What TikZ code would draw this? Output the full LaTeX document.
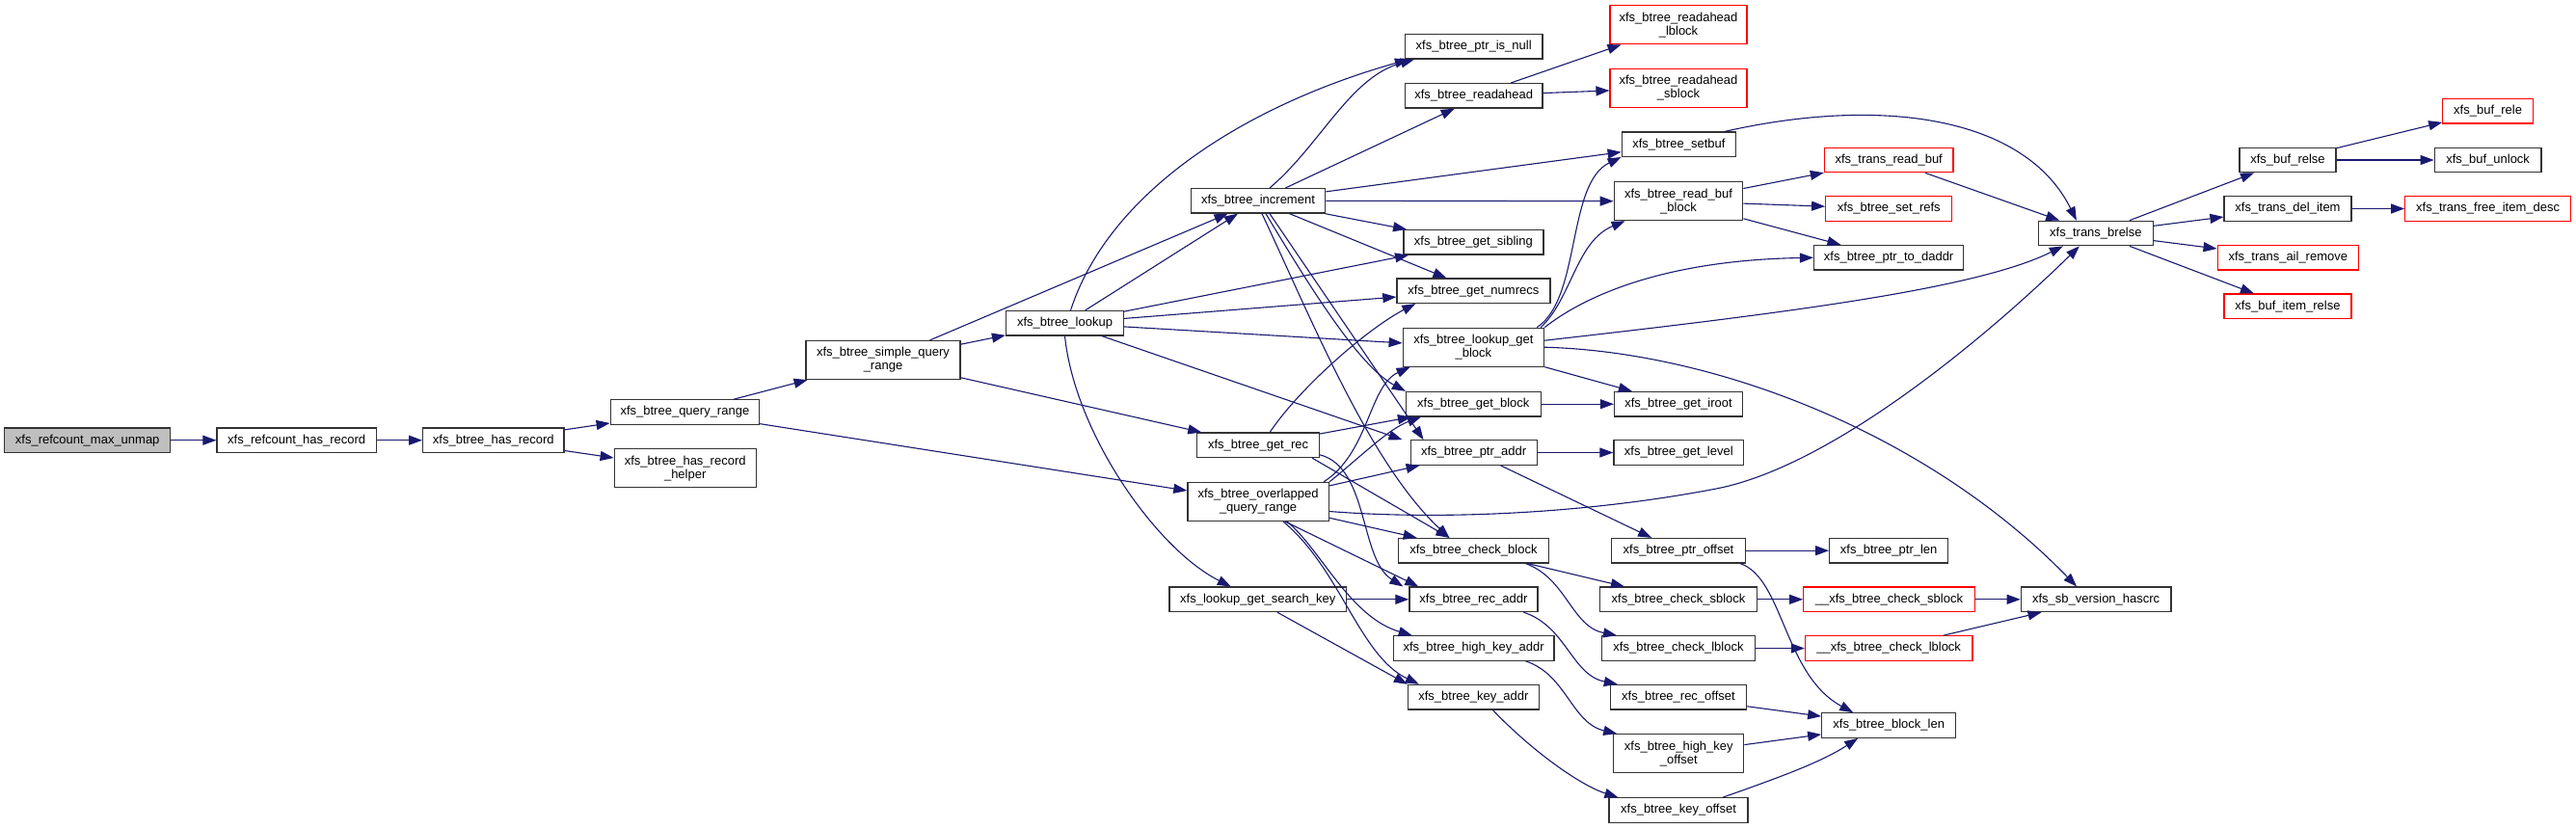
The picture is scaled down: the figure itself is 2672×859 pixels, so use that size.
\documentclass[tikz,border=0pt]{standalone}
\usepackage{fontspec}
\setmainfont{Liberation Sans}
\usepackage{tikz}
\usetikzlibrary{arrows.meta}

\definecolor{callblue}{RGB}{25,25,112}
\definecolor{rootgray}{RGB}{191,191,191}

\begin{document}
\begin{tikzpicture}[
            x=0.5pt, y=-0.5pt,
            fnbox/.style={
                draw=black!80,
                line width=0.6pt,
                fill=white,
                align=center,
                inner xsep=3pt,
                inner ysep=1pt,
                minimum height=12.75pt,
                font=\fontsize{6.5pt}{7pt}\selectfont
            },
            fnred/.style={fnbox, draw=red},
            fnroot/.style={fnbox, fill=rootgray},
            twoline/.style={minimum height=20pt},
            call/.style={
                draw=callblue,
                line width=0.55pt,
                -{Triangle[length=7pt,width=5pt]}
            }
        ]

        \path[use as bounding box, fill=white] (0,0) rectangle (2672,859);

        \node[fnroot, minimum width=86pt] (maxunmap) at (90.7,456.7) {xfs\_refcount\_max\_unmap};
        \node[fnbox, minimum width=82.7pt] (hasrec) at (307.7,456.7) {xfs\_refcount\_has\_record};
        \node[fnbox, minimum width=73.2pt] (btreehasrec) at (511.8,456.7) {xfs\_btree\_has\_record};
        \node[fnbox, minimum width=77.2pt] (queryrange) at (710.4,427.5) {xfs\_btree\_query\_range};
        \node[fnbox, twoline, minimum width=73.5pt] (hasrechelper) at (710.7,485.8) {xfs\_btree\_has\_record\\\_helper};
        \node[fnbox, twoline, minimum width=80pt] (simplequery) at (916,373.5) {xfs\_btree\_simple\_query\\\_range};

        \node[fnbox, minimum width=61pt] (lookup) at (1104.5,335.3) {xfs\_btree\_lookup};
        \node[fnbox, minimum width=69.8pt] (increment) at (1305,208.3) {xfs\_btree\_increment};
        \node[fnbox, minimum width=63.4pt] (getrec) at (1305.1,461.8) {xfs\_btree\_get\_rec};
        \node[fnbox, twoline, minimum width=73.2pt] (overlapped) at (1305.1,520.5) {xfs\_btree\_overlapped\\\_query\_range};
        \node[fnbox, minimum width=91.8pt] (searchkey) at (1304.8,621.8) {xfs\_lookup\_get\_search\_key};

        \node[fnbox, minimum width=71.2pt] (ptrisnull) at (1528.7,48.3) {xfs\_btree\_ptr\_is\_null};
        \node[fnbox, minimum width=71.2pt] (readahead) at (1528.7,99.3) {xfs\_btree\_readahead};
        \node[fnbox, minimum width=72.5pt] (getsibling) at (1528.4,251.3) {xfs\_btree\_get\_sibling};
        \node[fnbox, minimum width=79.5pt] (getnumrecs) at (1528.4,301.7) {xfs\_btree\_get\_numrecs};
        \node[fnbox, twoline, minimum width=73.2pt] (lookupgetblock) at (1528.4,360.2) {xfs\_btree\_lookup\_get\\\_block};
        \node[fnbox, minimum width=69.8pt] (getblock) at (1528.3,419.2) {xfs\_btree\_get\_block};
        \node[fnbox, minimum width=65.5pt] (ptraddr) at (1528.6,469.5) {xfs\_btree\_ptr\_addr};
        \node[fnbox, minimum width=77.8pt] (checkblock) at (1528.4,571.2) {xfs\_btree\_check\_block};
        \node[fnbox, minimum width=66.5pt] (recaddr) at (1528.4,621.8) {xfs\_btree\_rec\_addr};
        \node[fnbox, minimum width=83.3pt] (highkeyaddr) at (1528.6,672.5) {xfs\_btree\_high\_key\_addr};
        \node[fnbox, minimum width=68pt] (keyaddr) at (1528.4,723.2) {xfs\_btree\_key\_addr};

        \node[fnred, twoline, minimum width=71pt] (ralblock) at (1741,25.8) {xfs\_btree\_readahead\\\_lblock};
        \node[fnred, twoline, minimum width=71pt] (rasblock) at (1741,91.2) {xfs\_btree\_readahead\\\_sblock};
        \node[fnbox, minimum width=59.2pt] (setbuf) at (1741.4,149.7) {xfs\_btree\_setbuf};
        \node[fnbox, twoline, minimum width=66.8pt] (readbufblock) at (1741,208.7) {xfs\_btree\_read\_buf\\\_block};
        \node[fnbox, minimum width=66.5pt] (getiroot) at (1741,419.2) {xfs\_btree\_get\_iroot};
        \node[fnbox, minimum width=67.4pt] (getlevel) at (1741.3,469.5) {xfs\_btree\_get\_level};
        \node[fnbox, minimum width=69.5pt] (ptroffset) at (1741,571.2) {xfs\_btree\_ptr\_offset};
        \node[fnbox, minimum width=81.6pt] (checksblock) at (1741,621.8) {xfs\_btree\_check\_sblock};
        \node[fnbox, minimum width=79.4pt] (checklblock) at (1741,672.5) {xfs\_btree\_check\_lblock};
        \node[fnbox, minimum width=70.6pt] (recoffset) at (1741,723.2) {xfs\_btree\_rec\_offset};
        \node[fnbox, twoline, minimum width=67.5pt] (highkeyoffset) at (1741.3,781.7) {xfs\_btree\_high\_key\\\_offset};
        \node[fnbox, minimum width=72pt] (keyoffset) at (1741,840.5) {xfs\_btree\_key\_offset};

        \node[fnred, minimum width=66.8pt] (transreadbuf) at (1959.2,166) {xfs\_trans\_read\_buf};
        \node[fnred, minimum width=65.5pt] (setrefs) at (1959.2,216.5) {xfs\_btree\_set\_refs};
        \node[fnbox, minimum width=77.6pt] (ptrtodaddr) at (1959.1,267.3) {xfs\_btree\_ptr\_to\_daddr};
        \node[fnbox, minimum width=61.5pt] (ptrlen) at (1959.2,571.2) {xfs\_btree\_ptr\_len};
        \node[fnred, minimum width=88.7pt] (ucheckshort) at (1959.4,621.8) {\_\_xfs\_btree\_check\_sblock};
        \node[fnred, minimum width=86.8pt] (uchecklong) at (1959.2,672.5) {\_\_xfs\_btree\_check\_lblock};
        \node[fnbox, minimum width=69.5pt] (blocklen) at (1959.2,752.5) {xfs\_btree\_block\_len};

        \node[fnbox, minimum width=59.2pt] (transbrelse) at (2173.9,242) {xfs\_trans\_brelse};
        \node[fnbox, minimum width=77.8pt] (sbhascrc) at (2174.1,621.8) {xfs\_sb\_version\_hascrc};

        \node[fnbox, minimum width=50pt] (bufrelse) at (2373,166) {xfs\_buf\_relse};
        \node[fnbox, minimum width=66pt] (transdelitem) at (2373,216.5) {xfs\_trans\_del\_item};
        \node[fnred, minimum width=73.2pt] (transailremove) at (2373.3,267.3) {xfs\_trans\_ail\_remove};
        \node[fnred, minimum width=66pt] (bufitemrelse) at (2373,317.8) {xfs\_buf\_item\_relse};

        \node[fnred, minimum width=46.8pt] (bufrele) at (2580.6,115.3) {xfs\_buf\_rele};
        \node[fnbox, minimum width=55.4pt] (bufunlock) at (2580.6,166) {xfs\_buf\_unlock};
        \node[fnred, minimum width=85.9pt] (freeitemdesc) at (2580.6,216.5) {xfs\_trans\_free\_item\_desc};

        \draw[call] (maxunmap) -- (hasrec);
        \draw[call] (hasrec) -- (btreehasrec);
        \draw[call] (btreehasrec) -- (queryrange);
        \draw[call] (btreehasrec) -- (hasrechelper);
        \draw[call] (queryrange) -- (simplequery);
        \draw[call] (queryrange) -- (overlapped);
        \draw[call] (simplequery) -- (lookup);
        \draw[call] (simplequery) -- (increment);
        \draw[call] (simplequery) -- (getrec);

        \draw[call] ([xshift=3pt]lookup.north) .. controls (1150,200) and (1290,110) .. ([xshift=2pt]ptrisnull.south west);
        \draw[call] (lookup) -- (increment);
        \draw[call] (lookup) -- (getsibling);
        \draw[call] (lookup) -- (getnumrecs);
        \draw[call] (lookup) -- (lookupgetblock);
        \draw[call] (lookup) -- ([xshift=-4pt]ptraddr.north west);
        \draw[call] (lookup.south) .. controls (1115,450) and (1200,570) .. ([xshift=-14pt]searchkey.north);

        \draw[call] ([xshift=6pt]increment.north) .. controls (1370,150) and (1400,80) .. ([xshift=5pt]ptrisnull.south west);
        \draw[call] (increment) -- ([xshift=-10pt]readahead.south);
        \draw[call] (increment) -- (setbuf);
        \draw[call] (increment) -- (readbufblock);
        \draw[call] (increment) -- (getsibling);
        \draw[call] (increment) -- ([xshift=-14pt]getnumrecs.north);
        \draw[call] ([xshift=4pt]increment.south) .. controls (1360,300) and (1410,380) .. (getblock.north west);
        \draw[call] ([xshift=6pt]increment.south) -- ([xshift=7pt]ptraddr.north west);
        \draw[call] ([xshift=2pt]increment.south) .. controls (1360,330) and (1420,480) .. ([xshift=-12.5pt]checkblock.north);

        \draw[call] ([xshift=6pt]getrec.north) .. controls (1350,400) and (1420,340) .. ([xshift=10pt]getnumrecs.south west);
        \draw[call] (getrec) -- ([xshift=3pt]getblock.south west);
        \draw[call] ([xshift=-4pt]getrec.south east) -- ([xshift=-12.5pt]checkblock.north);
        \draw[call] ([yshift=-5pt]getrec.east) .. controls (1420,485) and (1410,580) .. ([xshift=-3pt]recaddr.north west);

        \draw[call] ([xshift=-3pt]overlapped.north east) .. controls (1420,470) and (1420,400) .. ([xshift=4pt]lookupgetblock.south west);
        \draw[call] (overlapped.north east) .. controls (1410,475) and (1440,445) .. ([xshift=8pt]getblock.south west);
        \draw[call] (overlapped) -- ([xshift=-28pt]ptraddr.south);
        \draw[call] (overlapped) -- (checkblock);
        \draw[call] ([xshift=14pt]overlapped.south) -- ([xshift=5pt]recaddr.north west);
        \draw[call] ([xshift=15pt]overlapped.south) .. controls (1370,570) and (1400,640) .. ([xshift=10pt]highkeyaddr.north west);
        \draw[call] ([xshift=13pt]overlapped.south) .. controls (1390,590) and (1410,680) .. ([xshift=6pt]keyaddr.north west);
        \draw[call] ([yshift=-5pt]overlapped.east) .. controls (1500,540) and (1650,532) .. (1780,507)
            .. controls (1900,484) and (2060,350) .. ([xshift=-8.5pt]transbrelse.south);

        \draw[call] (searchkey) -- (recaddr);
        \draw[call] ([xshift=10pt]searchkey.south) -- ([xshift=0pt]keyaddr.north west);

        \draw[call] ([xshift=-4pt]lookupgetblock.north east) .. controls (1640,310) and (1625,190) .. (setbuf.south west);
        \draw[call] ([xshift=-2pt]lookupgetblock.north east) .. controls (1630,310) and (1635,250) .. ([xshift=6pt]readbufblock.south west);
        \draw[call] (lookupgetblock.north east) .. controls (1640,310) and (1720,270) .. (ptrtodaddr.west);
        \draw[call] ([yshift=3.5pt]lookupgetblock.east) .. controls (1850,325) and (2050,300) .. ([xshift=-17pt]transbrelse.south);
        \draw[call] (lookupgetblock.east) .. controls (1780,365) and (2000,450) .. ([xshift=-10pt]sbhascrc.north);
        \draw[call] (lookupgetblock) -- (getiroot);

        \draw[call] (getblock) -- (getiroot);
        \draw[call] (ptraddr) -- (getlevel);
        \draw[call] (ptraddr) -- (ptroffset);
        \draw[call] (checkblock) -- (checksblock);
        \draw[call] ([xshift=27pt]checkblock.south) .. controls (1625,600) and (1630,650) .. ([xshift=8pt]checklblock.north west);
        \draw[call] ([xshift=26pt]recaddr.south) .. controls (1625,650) and (1630,700) .. ([xshift=4pt]recoffset.north west);
        \draw[call] ([xshift=27pt]highkeyaddr.south) .. controls (1625,700) and (1630,750) .. ([xshift=2pt]highkeyoffset.north west);
        \draw[call] ([xshift=10pt]keyaddr.south) .. controls (1590,780) and (1640,815) .. ([xshift=5pt]keyoffset.north west);

        \draw[call] (readahead) -- (ralblock);
        \draw[call] (readahead) -- (rasblock);
        \draw[call] ([xshift=-6pt]setbuf.north east) .. controls (1950,100) and (2100,120) .. ([xshift=-10pt]transbrelse.north);
        \draw[call] (readbufblock) -- (transreadbuf);
        \draw[call] (readbufblock) -- (setrefs);
        \draw[call] (readbufblock) -- (ptrtodaddr);
        \draw[call] (transreadbuf) -- (transbrelse);

        \draw[call] (ptroffset) -- (ptrlen);
        \draw[call] ([xshift=-3pt]ptroffset.south east) .. controls (1850,600) and (1850,700) .. ([xshift=-18.5pt]blocklen.north);
        \draw[call] (checksblock) -- (ucheckshort);
        \draw[call] (checklblock) -- (uchecklong);
        \draw[call] (ucheckshort) -- (sbhascrc);
        \draw[call] (uchecklong) -- (sbhascrc);
        \draw[call] (recoffset) -- (blocklen);
        \draw[call] (highkeyoffset) -- (blocklen);
        \draw[call] ([xshift=23pt]keyoffset.north) .. controls (1850,805) and (1890,790) .. ([xshift=-16pt]blocklen.south);

        \draw[call] (transbrelse) -- (bufrelse);
        \draw[call] (transbrelse) -- (transdelitem);
        \draw[call] (transbrelse) -- (transailremove);
        \draw[call] (transbrelse) -- (bufitemrelse);
        \draw[call] (bufrelse) -- (bufrele);
        \draw[call] (bufrelse) -- (bufunlock);
        \draw[call] (transdelitem) -- (freeitemdesc);

    \end{tikzpicture}
\end{document}
